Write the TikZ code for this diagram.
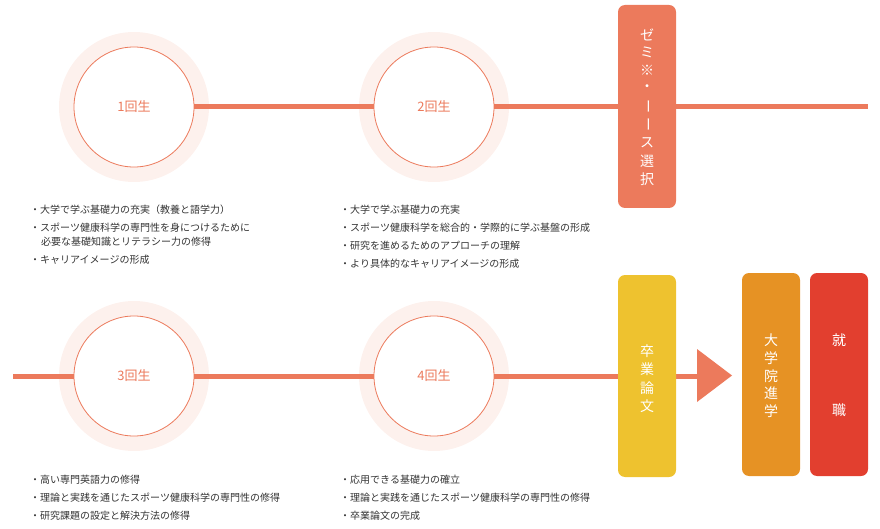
\documentclass[tikz,border=0pt]{standalone}
\usepackage{fontspec}
\setmainfont{Noto Sans CJK JP}
\definecolor{sal}{HTML}{EC7A5C}
\definecolor{halo}{HTML}{FDF1ED}
\definecolor{ylw}{HTML}{EEC22F}
\definecolor{org}{HTML}{E69224}
\definecolor{rd}{HTML}{E23F2F}
\definecolor{txt}{HTML}{333333}
\begin{document}
\begin{tikzpicture}[x=1pt,y=-1pt,
  tl/.style={line width=5pt,sal},
  halo/.style={circle,fill=halo,minimum size=150pt,inner sep=0},
  yr/.style={circle,draw=sal,line width=0.8pt,fill=white,minimum size=120pt,text=sal,font=\fontsize{13}{13}\selectfont},
  li/.style={anchor=west,text=txt,font=\fontsize{10}{10}\selectfont,inner sep=0},
  vb/.style={rounded corners=7pt,minimum width=58pt,inner sep=0},
  vc/.style={text=white,font=\fontsize{14}{14}\selectfont,inner sep=0}]
\useasboundingbox (0,0) rectangle (880,529);
\node[halo] (h1) at (134,107) {};
\node[halo] (h2) at (434,107) {};
\node[halo] (h3) at (134,376) {};
\node[halo] (h4) at (434,376) {};
\coordinate (tE) at (868,107);
\coordinate (bS) at (13,376);
\coordinate (bE) at (700,376);
\node[yr] (c1) at (134,107) {1回生};
\node[yr] (c2) at (434,107) {2回生};
\node[yr] (c3) at (134,376) {3回生};
\node[yr] (c4) at (434,376) {4回生};
\draw[tl] (c1.east) -- (c2.west);
\draw[tl] (c2.east) -- (tE);
\draw[tl] (bS) -- (c3.west);
\draw[tl] (c3.east) -- (c4.west);
\draw[tl] (c4.east) -- (bE);
% boxes
\node[vb,fill=sal,minimum height=203pt] (zemi) at (647,106.5) {};
\foreach \c/\y in {ゼ/35,ミ/52,※/70,・/88,ス/143,選/161,択/179}
  \node[vc] at (647,\y) {\c};
\node[vc] at (647,107) {\rotatebox{-90}{ー}};
\node[vc] at (647,125) {\rotatebox{-90}{ー}};
\node[vb,fill=ylw,minimum height=202pt] (sotsu) at (647,376) {};
\foreach \c/\y in {卒/351,業/369,論/388,文/406}
  \node[vc] at (647,\y) {\c};
\fill[sal] (697,349) -- (732,375.5) -- (697,402) -- cycle;
\node[vb,fill=org,minimum height=203pt] (inshin) at (771,374.5) {};
\foreach \c/\y in {大/340,学/358,院/376,進/393,学/411}
  \node[vc] at (771,\y) {\c};
\node[vb,fill=rd,minimum height=203pt] (shu) at (839,374.5) {};
\node[vc] at (839,340) {就};
\node[vc] at (839,410) {職};
% lists
\node[li] (a1) at (30,210) {・大学で学ぶ基礎力の充実（教養と語学力）};
\node[li] (a2) at (30,228) {・スポーツ健康科学の専門性を身につけるために};
\node[li] (a3) at (41,242) {必要な基礎知識とリテラシー力の修得};
\node[li] (a4) at (30,260) {・キャリアイメージの形成};
\node[li] (b1) at (340,210) {・大学で学ぶ基礎力の充実};
\node[li] (b2) at (340,228) {・スポーツ健康科学を総合的・学際的に学ぶ基盤の形成};
\node[li] (b3) at (340,246) {・研究を進めるためのアプローチの理解};
\node[li] (b4) at (340,264) {・より具体的なキャリアイメージの形成};
\node[li] (d1) at (30,480) {・高い専門英語力の修得};
\node[li] (d2) at (30,498) {・理論と実践を通じたスポーツ健康科学の専門性の修得};
\node[li] (d3) at (30,516) {・研究課題の設定と解決方法の修得};
\node[li] (e1) at (340,480) {・応用できる基礎力の確立};
\node[li] (e2) at (340,498) {・理論と実践を通じたスポーツ健康科学の専門性の修得};
\node[li] (e3) at (340,516) {・卒業論文の完成};
\end{tikzpicture}
\end{document}
